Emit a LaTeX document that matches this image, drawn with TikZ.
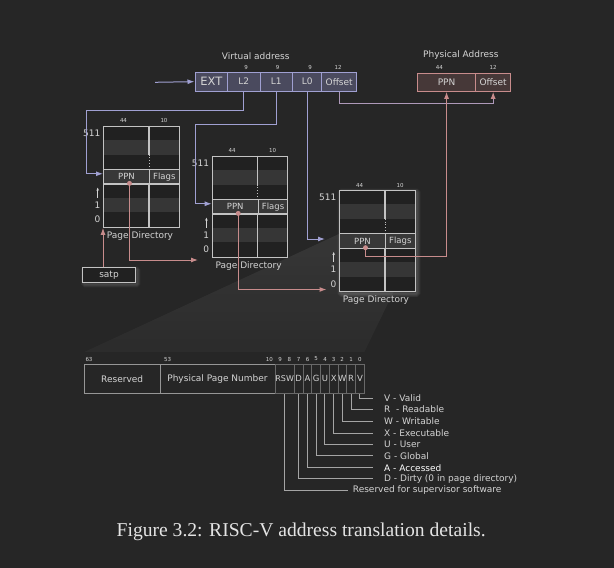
\documentclass[tikz,border=0pt]{standalone}
\usepackage{fontspec}
\setmainfont{DejaVu Sans}
\newfontfamily\capfont{Liberation Serif}
\usetikzlibrary{arrows.meta,positioning,fadings}
\definecolor{bgc}{RGB}{38,38,38}
\definecolor{txtc}{RGB}{212,212,212}
\definecolor{capc}{RGB}{228,228,228}
\definecolor{lavc}{RGB}{160,160,210}
\definecolor{vafill}{RGB}{74,74,94}
\definecolor{pinkc}{RGB}{200,140,140}
\definecolor{pafill}{RGB}{70,56,56}
\definecolor{pdline}{RGB}{195,195,195}
\definecolor{pdfill}{RGB}{33,33,33}
\definecolor{pdband}{RGB}{54,54,54}
\definecolor{ppnfill}{RGB}{56,56,56}
\definecolor{pteline}{RGB}{150,150,150}
\definecolor{bitline}{RGB}{105,105,105}
\definecolor{leadc}{RGB}{165,165,165}
\newcommand{\fsz}[1]{\fontsize{#1}{#1}\selectfont}

\begin{document}
\begin{tikzpicture}[
        x=1pt, y=-1pt,
        lbl/.style={font=\fsz{9}, text=txtc, inner sep=0pt},
        bitnum/.style={font=\fsz{5.5}, text=txtc, inner sep=0pt},
        vafield/.style={draw=lavc, fill=vafill, line width=1pt, minimum height=18.7pt, inner sep=0pt, font=\fsz{9}, text=txtc},
        pafield/.style={draw=pinkc, fill=pafill, line width=1pt, minimum height=17.8pt, inner sep=0pt, font=\fsz{9}, text=txtc},
        pdrow/.style={draw=pdline, fill=ppnfill, line width=1.1pt, minimum height=14.43pt, inner sep=0pt, font=\fsz{8.5}, text=txtc, anchor=north west},
        ptefield/.style={draw=pteline, line width=0.9pt, minimum height=29.3pt, inner sep=0pt, font=\fsz{9}, text=txtc},
        bitfield/.style={ptefield, draw=bitline, minimum width=8.75pt, font=\fsz{8.5}},
        lavarrow/.style={draw=lavc, line width=1pt, -{Latex[length=7pt,width=5pt]}},
        pinkarrow/.style={draw=pinkc, line width=1pt, -{Latex[length=7pt,width=5pt]}},
        leader/.style={draw=leadc, line width=0.9pt},
        glow/.style={white, opacity=0.04, rounded corners=1pt}
    ]
        \useasboundingbox (0,0) rectangle (614,568);
        \fill[bgc] (0,0) rectangle (614,568);

        % Zoom wedge (page table entry)
        \fill[white, opacity=0.03] (339,234) -- (415,248.3) -- (364.3,352) -- (84.3,352) -- cycle;
        \fill[white, opacity=0.05, path fading=south] (339,234) -- (415,248.3) -- (364.3,352) -- (84.3,352) -- cycle;

        % Glow
        \foreach \g in {1,...,5}
            \draw[glow, line width=\g*1.4pt] (341,192) rectangle (417,293.7);
        \foreach \g in {1,...,4}
            \draw[glow, line width=\g*1.4pt] (84,269.5) rectangle (137.5,284.5);

        % Page directories
        \foreach \n/\x/\y in {1/103/125.7, 2/211.7/155.7, 3/339/190} {
            \fill[pdfill] (\x,\y) rectangle (\x+75.6,\y+101);
            \fill[pdband] (\x,\y+14.43) rectangle (\x+75.6,\y+28.86);
            \fill[pdband] (\x,\y+72.15) rectangle (\x+75.6,\y+86.58);
            \node[draw=pdline, line width=1.1pt, minimum width=75.6pt, minimum height=101pt, inner sep=0pt, anchor=north west] (pd\n) at (\x,\y) {};
            \draw[pdline, line width=1.1pt] (\x+46,\y) -- (\x+46,\y+28.86);
            \draw[pdline, line width=0.8pt, dotted] (\x+46,\y+28.86) -- (\x+46,\y+43.3);
            \draw[pdline, line width=1.1pt] (\x+46,\y+57.7) -- (\x+46,\y+101);
            \node[pdrow, minimum width=46pt] (ppn\n) at (\x,\y+43.3) {PPN};
            \node[pdrow, minimum width=29.6pt] (flags\n) at (\x+46,\y+43.3) {Flags};
            \node[bitnum] (w44\n) at (\x+20.5,\y-5) {44};
            \node[bitnum] (w10\n) at (\x+61,\y-5) {10};
            \node[lbl, anchor=east] (top\n) at (\x-2.5,\y+7.2) {511};
            \node[lbl, anchor=east] (one\n) at (\x-2.5,\y+79.4) {1};
            \node[lbl, anchor=east] (zero\n) at (\x-2.5,\y+93.8) {0};
            \draw[txtc, line width=0.6pt, -{Stealth[length=3pt,width=2.6pt]}] (\x-5.3,\y+72) -- (\x-5.3,\y+62);
            \node[lbl] (pdlbl\n) at (\x+37,\y+110) {Page Directory};
            \coordinate (dot\n) at (\x+26.5,\y+57.7);
        }

        % satp
        \node[draw=pdline, fill=pdfill, line width=1.1pt, minimum width=53.4pt, minimum height=15pt, inner sep=0pt, font=\fsz{9}, text=txtc] (satp) at (109,275.2) {satp};

        % Virtual address
        \node[lbl] (vatitle) at (255.7,55.7) {Virtual address};
        \node[vafield, minimum width=32.7pt, font=\fsz{11.5}] (ext) at (211.35,81.65) {EXT};
        \node[vafield, minimum width=32.3pt] (l2) at (243.85,81.65) {L2};
        \node[vafield, minimum width=32.7pt] (l1) at (276.35,81.65) {L1};
        \node[vafield, minimum width=29pt] (l0) at (307.2,81.65) {L0};
        \node[vafield, minimum width=35pt] (voff) at (339.2,81.65) {Offset};
        \node[bitnum] (vn2) at (246,67.7) {9};
        \node[bitnum] (vn1) at (277.7,67.7) {9};
        \node[bitnum] (vn0) at (310,67.7) {9};
        \node[bitnum] (vnoff) at (338,67.7) {12};
        \coordinate (vain) at (155,82.3);
        \draw[lavarrow] (vain) -- (ext.west);

        % Physical address
        \node[lbl] (patitle) at (460.9,54.7) {Physical Address};
        \node[pafield, minimum width=58.3pt] (pappn) at (446.55,82.4) {PPN};
        \node[pafield, minimum width=34.9pt] (paoff) at (493.15,82.4) {Offset};
        \node[bitnum] (pa44) at (439.3,67.4) {44};
        \node[bitnum] (pa12) at (493,67.4) {12};

        % Index connectors
        \draw[lavarrow] (l2.south) -- ++(0,18.7) -| ([xshift=-16.2pt,yshift=3pt]ppn1.west) -- ([yshift=3pt]ppn1.west);
        \draw[lavarrow] (l1.south) -- ++(0,33.2) -| ([xshift=-16.7pt,yshift=3pt]ppn2.west) -- ([yshift=3pt]ppn2.west);
        \coordinate (l0end) at (325,239);
        \draw[lavarrow] (l0.south) |- (l0end);
        \draw[lavarrow, draw=lavc!65!pinkc, -{Latex[length=7pt,width=5pt,color=pinkc]}] (voff.south) -- ++(0,12.2) -| (paoff.south);

        % PPN connectors
        \draw[pinkarrow] (satp.north -| pd1.south west) -- (pd1.south west);
        \coordinate (pd2in) at (198,260);
        \draw[pinkarrow] (dot1) |- (pd2in);
        \coordinate (pd3in) at (326.5,289.5);
        \draw[pinkarrow] (dot2) |- (pd3in);
        \draw[pinkarrow] (dot3) -- ++(0,9.2) -| (pappn.south);
        \foreach \n in {1,2,3}
            \fill[pinkc] (dot\n) circle (2.5pt);

        % Page table entry
        \node[ptefield, minimum width=75.7pt] (resv) at (122.15,378.65) {Reserved};
        \node[ptefield, minimum width=115pt] (ppnf) at (217.5,378.65) {Physical Page Number};
        \node[ptefield, draw=bitline, minimum width=19.3pt, font=\fsz{8}] (rsw) at (284.65,378.65) {RSW};
        \foreach \f [count=\i from 0] in {D,A,G,U,X,W,R,V}
            \node[bitfield] (bit\f) at (298.675+8.75*\i,378.65) {\f};
        \foreach \t/\xx [count=\i] in {63/89, 53/167.7, 10/269.3, 9/280, 8/289.3, 7/298.7, 6/307.5, 5/316.2, 4/325, 3/333.5, 2/342.2, 1/351, 0/359.8}
            \node[bitnum] (bn\i) at (\xx,359) {\t};

        % Flag legend
        \foreach \f/\txt/\yy/\tc in {V/V - Valid/398.5/txtc, R/R\ \ - Readable/409.6/txtc, W/W - Writable/421.5/txtc, X/X - Executable/433.4/txtc, U/U - User/444.5/txtc, G/G - Global/455.8/txtc, A/A - Accessed/467.8/white, D/D - Dirty (0 in page directory)/478.9/txtc} {
            \node[lbl, anchor=west, text=\tc] (lab\f) at (384,\yy) {\txt};
            \draw[leader] (bit\f.south) |- ([xshift=-11pt]lab\f.west);
        }
        \node[lbl, anchor=west] (labrsw) at (352.7,490.5) {Reserved for supervisor software};
        \draw[leader] (rsw.south) |- ([xshift=-4.5pt]labrsw.west);

        % Caption
        \node[font=\capfont\fontsize{19.6}{22}\selectfont, text=capc, anchor=base, inner sep=0pt] (caption) at (301.2,536.7) {Figure 3.2: RISC-V address translation details.};

    \end{tikzpicture}
\end{document}
